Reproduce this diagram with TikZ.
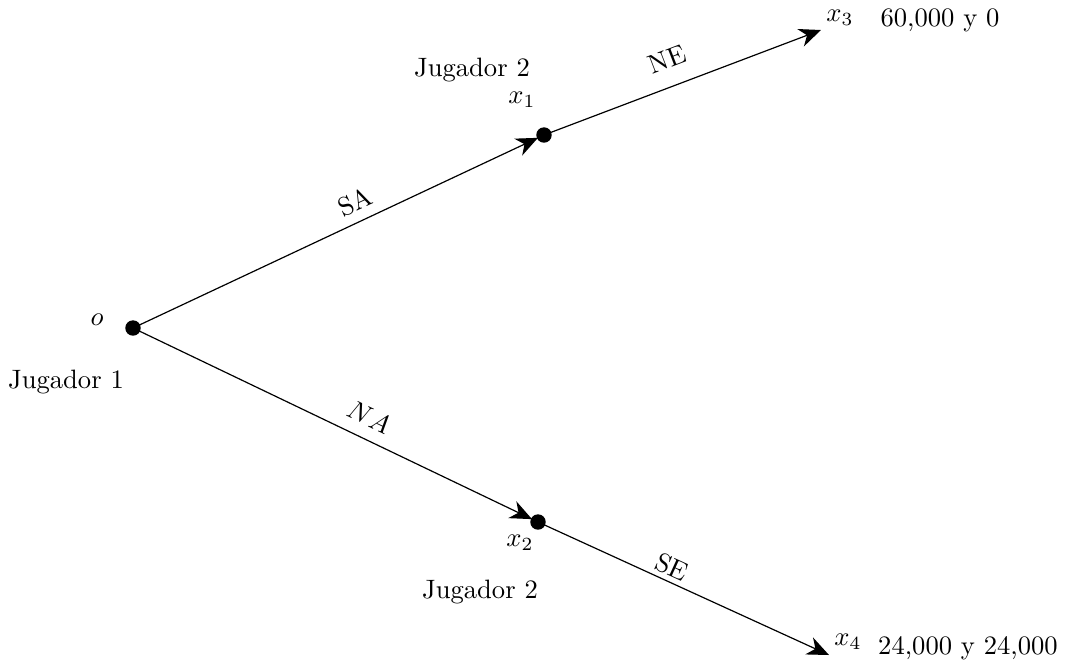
\documentclass[tikz,border=0pt]{standalone}
\usetikzlibrary{arrows.meta}
\begin{document}
\begin{tikzpicture}[x=0.376pt,y=-0.376pt,
  dot/.style={circle,fill=black,inner sep=0pt,minimum size=5.8pt},
  edge/.style={-{Stealth[length=8.2pt,width=7pt,inset=2.6pt]},line width=0.45pt},
  lbl/.style={inner sep=0pt}]
\useasboundingbox (0,0) rectangle (1066,664);
\node[dot] (o) at (133,328) {};
\node[dot] (x1) at (544,135) {};
\node[dot] (x2) at (538,522) {};
\coordinate (x3) at (821,30);
\coordinate (x4) at (829,655);
\draw[edge,shorten >=2.5pt] (o.center) -- (x1.center);
\draw[edge,shorten >=2.5pt] (o.center) -- (x2.center);
\draw[edge] (x1.center) -- (x3);
\draw[edge] (x2.center) -- (x4);
\node[lbl] (lo) at (97,320) {$o$};
\node[lbl] (j1) at (66,382) {Jugador 1};
\node[lbl] (j2a) at (472,70) {Jugador 2};
\node[lbl] (lx1) at (522,100) {$x_1$};
\node[lbl,rotate=21] (ne) at (667,59) {NE};
\node[lbl] (lx3) at (840,18) {$x_3$};
\node[lbl] (p3) at (940,20) {60,000 y 0};
\node[lbl,rotate=25] (sa) at (355,202) {SA};
\node[lbl,rotate=-25.5] (na) at (369,417) {$NA$};
\node[lbl] (lx2) at (520,543) {$x_2$};
\node[lbl,rotate=-24.6] (se) at (672,567) {SE};
\node[lbl] (j2b) at (480,592) {Jugador 2};
\node[lbl] (lx4) at (848,642) {$x_4$};
\node[lbl] (p4) at (968,648) {24,000 y 24,000};
\end{tikzpicture}
\end{document}
